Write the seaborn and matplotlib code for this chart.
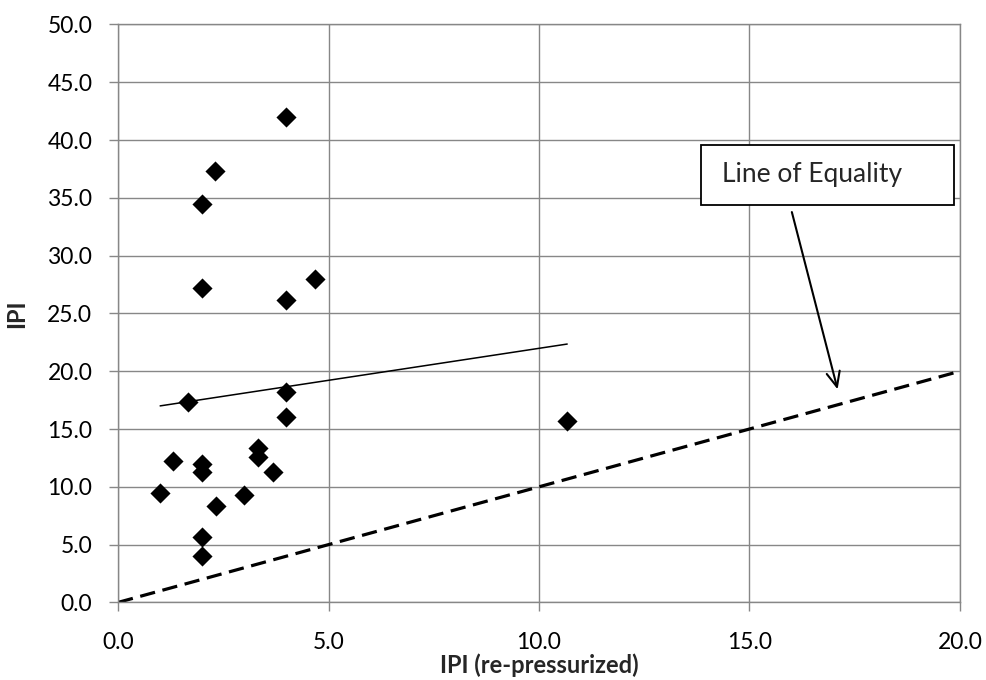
import numpy as np
import pandas as pd
import matplotlib
matplotlib.use("Agg")
import matplotlib.pyplot as plt
from matplotlib.patches import Rectangle
import seaborn as sns

# data
ipi_repressurized = [4.0, 2.3, 2.0, 2.0, 4.0, 4.67, 1.67, 4.0, 4.0, 1.3, 2.0,
                     2.0, 3.33, 3.33, 3.67, 1.0, 3.0, 2.33, 2.0, 2.0, 10.67]
ipi = [42.0, 37.3, 34.5, 27.2, 26.2, 28.0, 17.3, 18.2, 16.0, 12.2, 12.0,
       11.3, 13.4, 12.6, 11.3, 9.5, 9.3, 8.3, 5.7, 4.0, 15.7]
trend_x = [1.0, 10.67]
trend_y = [17.0, 22.35]
equality_x = [0.0, 20.0]
equality_y = [0.0, 20.0]
x_ticks = [0.0, 5.0, 10.0, 15.0, 20.0]
y_ticks = [0.0, 5.0, 10.0, 15.0, 20.0, 25.0, 30.0, 35.0, 40.0, 45.0, 50.0]
annotation_text = "Line of Equality"

df = pd.DataFrame({"IPI (re-pressurized)": ipi_repressurized, "IPI": ipi})

sns.set_theme(style="white")
plt.rcParams['font.family'] = ['Lato', 'DejaVu Sans']

fig = plt.figure(figsize=(9.87, 6.8), dpi=100)
ax = fig.add_axes([0.1196, 0.1141, 0.8530, 0.8500])

grid_c = "#878787"
ax.set_xlim(0, 20)
ax.set_ylim(0, 50)
ax.set_xticks(x_ticks)
ax.set_yticks(y_ticks)
ax.set_xticklabels([f"{v:.1f}" for v in x_ticks])
ax.set_yticklabels([f"{v:.1f}" for v in y_ticks])
ax.grid(True, color=grid_c, linewidth=1.0)
ax.set_axisbelow(True)
for s in ax.spines.values():
    s.set_color(grid_c)
    s.set_linewidth(1.0)
ax.tick_params(axis="both", which="major", direction="out", length=6.5,
               width=1.0, color=grid_c, labelsize=16.5, labelcolor="black",
               bottom=True, left=True)
ax.tick_params(axis="x", pad=15)
ax.tick_params(axis="y", pad=12)

# line of equality
sns.lineplot(x=equality_x, y=equality_y, ax=ax, color="black", linewidth=2.3,
             linestyle=(0, (4.8, 2.4)), legend=False, zorder=2)

# linear trendline
sns.lineplot(x=trend_x, y=trend_y, ax=ax, color="black", linewidth=1.1,
             legend=False, zorder=3)

# points
sns.scatterplot(data=df, x="IPI (re-pressurized)", y="IPI", ax=ax,
                marker="D", s=105, color="black", edgecolor="black",
                linewidth=0, zorder=4)

ax.set_xlabel("IPI (re-pressurized)", fontsize=17, fontweight="bold", labelpad=0)
ax.set_ylabel("IPI", fontsize=17, fontweight="bold", labelpad=14)

# annotation box and arrow
ax.annotate("", xy=(17.11, 18.2), xytext=(15.99, 34.0),
            arrowprops=dict(arrowstyle="->,head_length=0.9,head_width=0.4",
                            color="black", linewidth=1.5), zorder=5)
ax.add_patch(Rectangle((13.86, 34.4), 6.0, 5.2, facecolor="white",
                       edgecolor="black", linewidth=1.3, zorder=5))
ax.text(13.86 + 0.48, 37.0, annotation_text, fontsize=19, va="center",
        ha="left", zorder=6)

fig.savefig("out.png", dpi=100, facecolor="white")
